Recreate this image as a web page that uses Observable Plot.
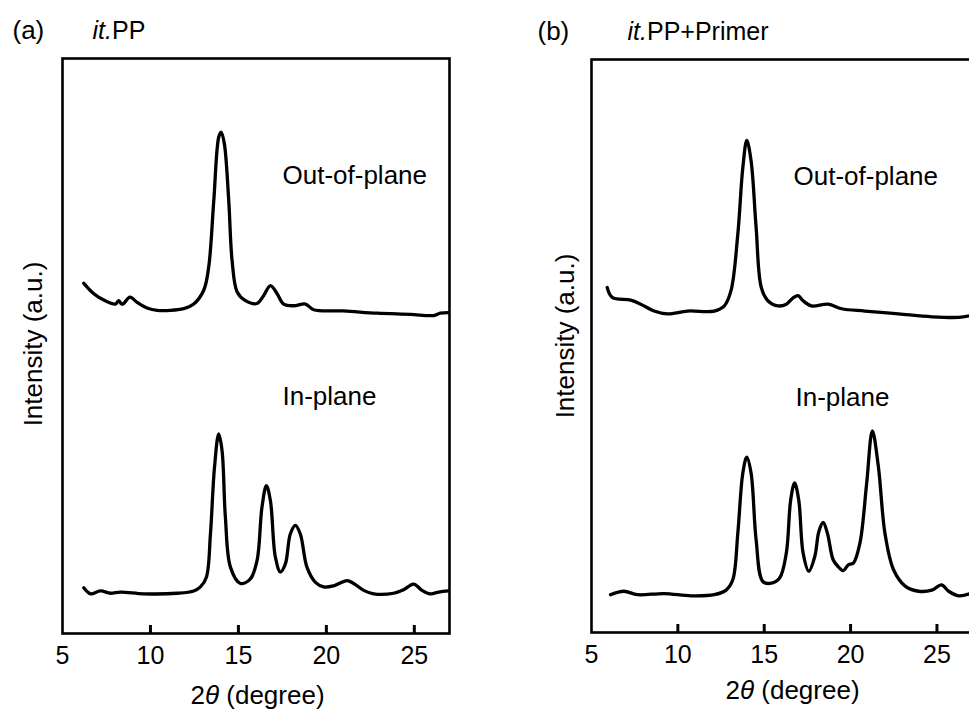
<!DOCTYPE html>
<html>
<head>
<meta charset="utf-8">
<script src="https://cdn.jsdelivr.net/npm/d3@7"></script>
<script src="https://cdn.jsdelivr.net/npm/@observablehq/plot@0.6"></script>
<style>
  html, body { margin: 0; padding: 0; background: #fff; }
  #wrap { position: relative; width: 969px; height: 711px; overflow: hidden; background: #fff; }
  .panel { position: absolute; top: 0; }
  .panel svg { max-width: none !important; display: block; }
</style>
</head>
<body>
<div id="wrap">
  <div class="panel" id="pa" style="left:0px;width:480px;"></div>
  <div class="panel" id="pb" style="left:480px;width:491px;"></div>
</div>
<script>
// ---------- data (2θ in degrees, intensity in arbitrary units) ----------
const xTickLabels = [5, 10, 15, 20, 25];
const xTickMarks = [10, 15, 20, 25];
const xDomain = [5, 27];
const yDomain = [0, 100];

const panelTags = ["(a)", "(b)"];
const panelTitles = ["it.PP", "it.PP+Primer"];
const curveLabels = ["Out-of-plane", "In-plane"];
const yLabel = "Intensity (a.u.)";
const xLabel = "2θ (degree)";

// (a) it.PP — out-of-plane
const outPlaneA = [
  [6.21,60.9],[6.78,59.1],[7.35,58.0],[8.01,57.3],[8.2,57.9],[8.35,57.3],[8.48,57.4],[8.83,58.5],
  [9.24,57.6],[9.81,56.6],[10.38,56.2],[11.9,56.5],[12.46,57.3],[13.03,59.7],[13.31,63.7],
  [13.6,75.3],[13.88,86.3],[14.02,87.2],[14.2,85.2],[14.45,75.3],[14.64,64.9],[14.93,59.4],
  [15.4,57.9],[16.06,57.4],[16.44,58.8],[16.82,60.5],[17.2,59.1],[17.57,57.3],[18.14,57.0],
  [18.81,57.3],[19.28,56.3],[20.98,56.1],[22.88,55.7],[24.77,55.5],[26.1,55.3],[26.48,55.7],[26.95,55.8]
];
// (a) it.PP — in-plane
const inPlaneA = [
  [6.21,7.94],[6.59,6.9],[7.16,7.4],[7.73,7.0],[8.3,7.2],[9.62,6.9],[11.52,7.0],[12.46,7.4],
  [12.84,8.1],[13.18,9.8],[13.41,17.3],[13.64,28.9],[13.88,34.7],[14.07,31.8],[14.26,20.2],
  [14.55,11.5],[15.11,8.7],[15.68,9.5],[16.06,12.7],[16.34,22.0],[16.59,25.7],[16.82,23.1],
  [17.1,13.3],[17.39,10.7],[17.67,12.1],[17.95,17.3],[18.24,18.8],[18.52,17.3],[18.9,11.5],
  [19.38,8.9],[19.85,8.1],[20.42,8.3],[21.18,9.2],[21.55,8.7],[22.12,7.5],[22.69,6.9],
  [23.82,7.0],[24.39,7.6],[24.96,8.6],[25.44,7.5],[25.91,6.9],[26.39,7.2],[26.95,7.4]
];
// (b) it.PP+Primer — out-of-plane
const outPlaneB = [
  [5.91,60.2],[6.2,58.5],[7.27,58.0],[7.85,57.3],[8.62,56.1],[9.4,55.6],[10.56,56.1],[12.11,56.1],
  [12.69,57.0],[13.08,59.7],[13.47,69.5],[13.76,81.1],[13.99,85.9],[14.24,82.3],[14.53,70.7],
  [14.83,60.2],[15.21,57.9],[15.8,57.0],[16.28,57.3],[16.67,58.4],[16.96,58.8],[17.25,57.9],
  [17.73,57.0],[18.7,57.3],[19.48,56.5],[20.83,56.1],[22.77,55.6],[24.71,55.1],[26.26,55.0],[26.94,55.3]
];
// (b) it.PP+Primer — in-plane
const inPlaneB = [
  [6.1,6.6],[6.88,7.2],[7.66,6.6],[9.2,6.8],[10.76,6.4],[12.11,6.6],[12.79,7.4],[13.18,9.2],
  [13.47,17.3],[13.76,27.8],[13.99,30.6],[14.24,27.8],[14.53,16.2],[14.92,8.9],[15.41,8.6],
  [15.89,9.5],[16.28,13.9],[16.53,23.1],[16.76,26.1],[17.0,23.1],[17.25,13.9],[17.58,10.7],
  [17.93,13.3],[18.16,17.6],[18.41,19.2],[18.66,17.3],[18.99,12.7],[19.28,11.5],[19.58,10.8],
  [19.87,11.8],[20.16,12.1],[20.54,15.6],[20.93,26.0],[21.26,35.2],[21.61,28.9],[21.99,17.3],
  [22.48,11.0],[23.16,8.1],[23.94,7.2],[24.71,7.4],[25.26,8.3],[25.68,7.2],[26.26,6.4],[26.94,6.8]
];

// ---------- drawing ----------
const FONT = '"Liberation Sans", Arial, Helvetica, sans-serif';
const H = 711;

function panel(o) {
  const frameH = H - o.mt - o.mb;
  const svg = Plot.plot({
    width: o.width, height: H,
    marginLeft: o.ml, marginRight: o.mr, marginTop: o.mt, marginBottom: o.mb,
    x: {domain: xDomain},
    y: {domain: yDomain, axis: null},
    style: {fontFamily: FONT, color: "black", background: "transparent", overflow: "visible"},
    marks: [
      Plot.line(o.out, {x: d => d[0], y: d => d[1], curve: "catmull-rom", stroke: "black", strokeWidth: 3.3}),
      Plot.line(o.inn, {x: d => d[0], y: d => d[1], curve: "catmull-rom", stroke: "black", strokeWidth: 3.3}),
      Plot.frame({stroke: "black", strokeWidth: 2.6}),
      Plot.tickX(xTickMarks, {x: d => d, stroke: "black", strokeWidth: 3, insetTop: frameH - 8}),
      Plot.axisX(xTickLabels, {anchor: "bottom", tickSize: 0, tickPadding: 13, fontSize: 25, label: null, fill: "black"}),
      Plot.text([o.tag], {frameAnchor: "top-left", dx: o.tagDx, dy: -28, textAnchor: "start", lineAnchor: "middle", fontSize: 26, fill: "black"}),
      Plot.text([o.title], {frameAnchor: "top-left", dx: o.titleDx, dy: -28, textAnchor: "start", lineAnchor: "middle", fontSize: 25, fill: "black"}),
      Plot.text([curveLabels[0]], {frameAnchor: "top-left", dx: o.outDx, dy: 117, textAnchor: "start", lineAnchor: "middle", fontSize: 26, fill: "black"}),
      Plot.text([curveLabels[1]], {frameAnchor: "top-left", dx: o.inDx, dy: 338, textAnchor: "start", lineAnchor: "middle", fontSize: 26, fill: "black"}),
      Plot.text([yLabel], {frameAnchor: "left", dx: o.yDx, dy: o.yDy, rotate: -90, textAnchor: "middle", lineAnchor: "middle", fontSize: 26, fill: "black"}),
      Plot.text([xLabel], {frameAnchor: "bottom", dx: o.xDx, dy: o.xDy, textAnchor: "middle", lineAnchor: "middle", fontSize: 26, fill: "black"})
    ]
  });
  svg.style.maxWidth = "none";
  // italic parts (θ and "it.")
  svg.querySelectorAll("text").forEach(t => {
    const s = t.textContent;
    if (s === xLabel) {
      t.textContent = "";
      t.append("2");
      const ts = document.createElementNS("http://www.w3.org/2000/svg", "tspan");
      ts.setAttribute("font-style", "italic"); ts.textContent = "θ"; t.append(ts);
      t.append(" (degree)");
    } else if (s.startsWith("it.")) {
      t.textContent = "";
      const ts = document.createElementNS("http://www.w3.org/2000/svg", "tspan");
      ts.setAttribute("font-style", "italic"); ts.textContent = "it."; t.append(ts);
      t.append(s.slice(3));
    }
  });
  return svg;
}

document.getElementById("pa").append(panel({
  width: 480, ml: 62, mr: 31, mt: 58, mb: 78,
  out: outPlaneA, inn: inPlaneA, tag: panelTags[0], title: panelTitles[0],
  tagDx: -50, titleDx: 30, outDx: 220, inDx: 220, yDx: -29, yDy: -2, xDx: 1.5, xDy: 62
}));
document.getElementById("pb").append(panel({
  width: 491, ml: 111, mr: 0, mt: 59, mb: 79,
  out: outPlaneB, inn: inPlaneB, tag: panelTags[1], title: panelTitles[1],
  tagDx: -54, titleDx: 36, outDx: 202, inDx: 204, yDx: -26, yDy: -10, xDx: 11, xDy: 58
}));
</script>
</body>
</html>
